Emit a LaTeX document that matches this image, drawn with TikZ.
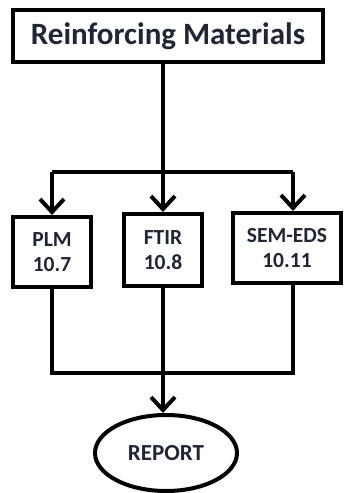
\documentclass[tikz,border=0pt]{standalone}
\usepackage{fontspec}
\setmainfont{Carlito}
\usetikzlibrary{arrows.meta,shapes.geometric}
\definecolor{txt}{RGB}{32,38,56}
\begin{document}
\begin{tikzpicture}[x=1pt,y=-1pt,
  box/.style={draw=black,line width=4pt,fill=white,rectangle,inner sep=0pt,text=txt,align=center,font=\bfseries\fontsize{21.5}{25}\selectfont},
  conn/.style={line width=4pt,line join=miter},
  arr/.style={conn,-{Straight Barb[length=13pt,width=24pt,line width=4pt]}}]
\useasboundingbox (0,0) rectangle (343,493);
\node[box,minimum width=310pt,minimum height=52pt,font=\bfseries\fontsize{31}{35}\selectfont] (top) at (168,36) {Reinforcing Materials};
\node[box,minimum width=78pt,minimum height=70pt] (plm) at (52,252) {PLM\\10.7};
\node[box,minimum width=78pt,minimum height=72pt] (ftir) at (163,250) {FTIR\\10.8};
\node[box,minimum width=108pt,minimum height=70pt] (sem) at (287,248) {SEM-EDS\\10.11};
\node[draw=black,line width=4pt,ellipse,minimum width=142pt,minimum height=76pt,inner sep=0pt,text=txt,font=\bfseries\fontsize{23}{27}\selectfont] (rep) at (166,453) {REPORT};
\coordinate (j1) at (163,172);
\coordinate (sx) at (293,172);
\coordinate (j2) at (163,373);
\coordinate (sx2) at (293,373);
\draw[conn] (top.south -| j1) -- (j1);
\draw[conn] (plm.north |- j1) -- (sx);
\draw[arr] (plm.north |- j1) -- (plm.north);
\draw[arr] (j1) -- (ftir.north);
\draw[arr] (sx) -- (sem.north -| sx);
\draw[conn] (plm.south) -- (plm.south |- j2) -- (sx2) -- (sem.south -| sx2);
\draw[conn] (ftir.south) -- (j2);
\draw[arr] (j2) -- (rep.north -| j2);
\end{tikzpicture}
\end{document}
